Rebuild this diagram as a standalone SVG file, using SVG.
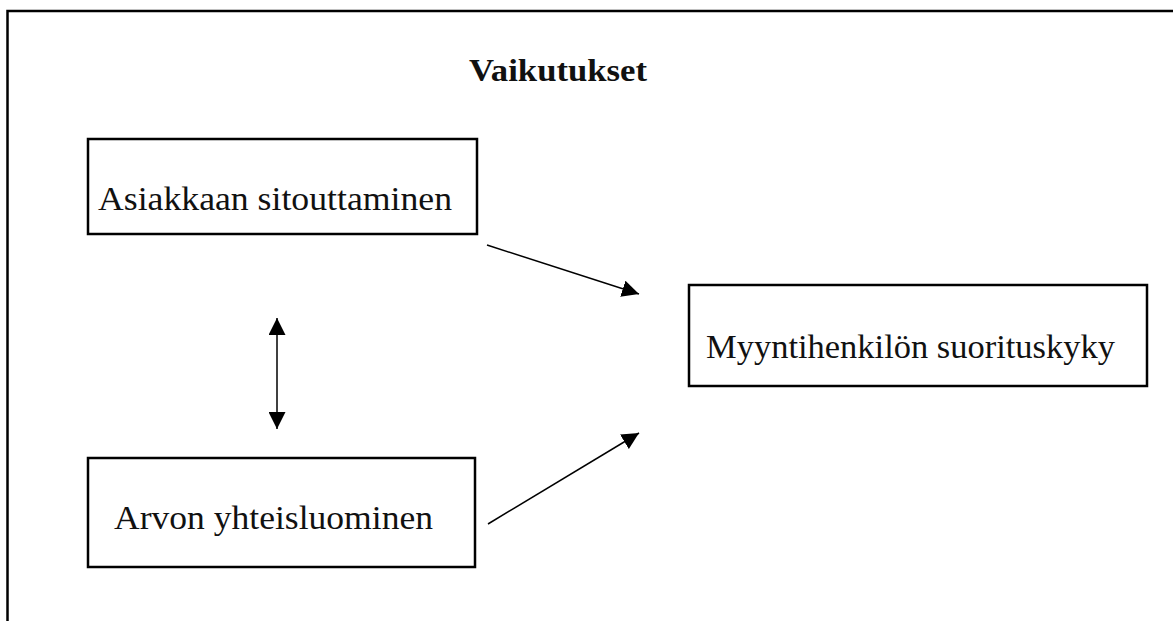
<svg xmlns="http://www.w3.org/2000/svg" width="1173" height="621" viewBox="0 0 1173 621">
<style>
.box{fill:#fff;stroke:#000;stroke-width:2.5}
.lbl{font-family:"Liberation Serif","DejaVu Serif",serif;font-size:34px;fill:#111}
.title{font-family:"Liberation Serif","DejaVu Serif",serif;font-size:32px;font-weight:bold;fill:#111}
.conn{stroke:#000;stroke-width:1.5;fill:none}
</style>
<defs>
<marker id="ah" viewBox="0 0 10 10" refX="10" refY="5" markerWidth="17" markerHeight="17" markerUnits="userSpaceOnUse" orient="auto-start-reverse">
<path d="M0,0 L10,5 L0,10 z" fill="#000"/>
</marker>
</defs>
<rect x="0" y="0" width="1173" height="621" fill="#fff"/>
<path d="M7.5,640 L7.5,11 L1180,11" fill="none" stroke="#000" stroke-width="2.5"/>
<text class="title" x="469" y="81" textLength="178" lengthAdjust="spacingAndGlyphs">Vaikutukset</text>
<g id="node-asiakkaan">
<rect class="box" x="88" y="139" width="389" height="95"/>
<text class="lbl" x="98" y="210" textLength="354" lengthAdjust="spacingAndGlyphs">Asiakkaan sitouttaminen</text>
</g>
<g id="node-arvon">
<rect class="box" x="88" y="458" width="387" height="109"/>
<text class="lbl" x="114" y="529" textLength="319" lengthAdjust="spacingAndGlyphs">Arvon yhteisluominen</text>
</g>
<g id="node-myynti">
<rect class="box" x="689" y="285" width="458" height="101"/>
<text class="lbl" x="706" y="358" textLength="409" lengthAdjust="spacingAndGlyphs">Myyntihenkilön suorituskyky</text>
</g>
<g id="connectors">
<line class="conn" x1="487" y1="245" x2="639" y2="294" marker-end="url(#ah)"/>
<line class="conn" x1="488" y1="524" x2="639" y2="433" marker-end="url(#ah)"/>
<line class="conn" x1="277" y1="318" x2="277" y2="429" marker-start="url(#ah)" marker-end="url(#ah)"/>
</g>
</svg>
